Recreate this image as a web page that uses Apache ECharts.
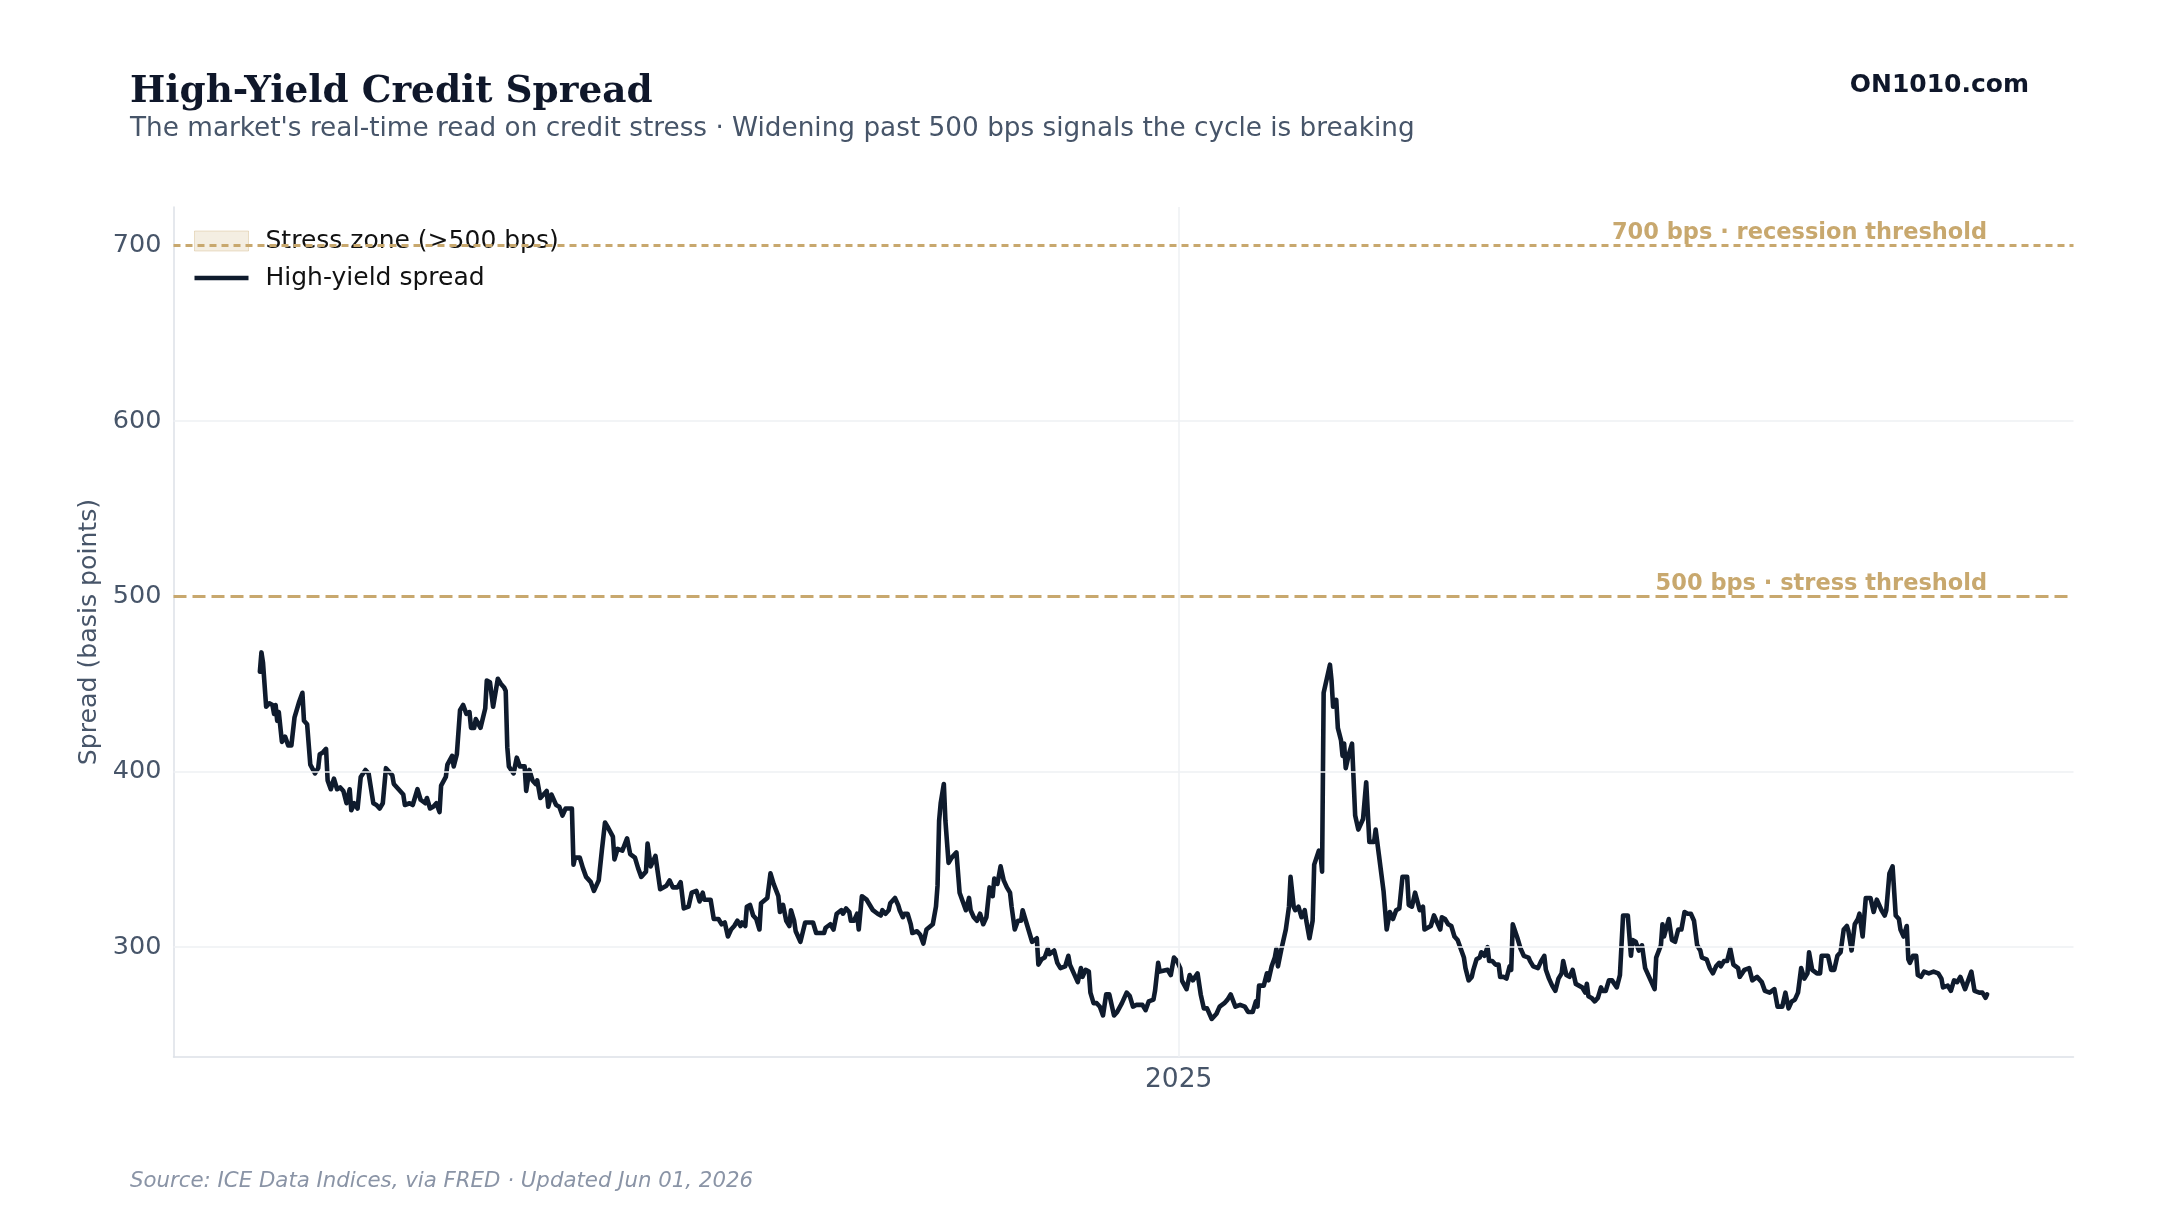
<!DOCTYPE html>
<html>
<head>
<meta charset="utf-8">
<title>High-Yield Credit Spread</title>
<script src="https://cdn.jsdelivr.net/npm/echarts@6/dist/echarts.min.js"></script>
<style>
  html, body { margin: 0; padding: 0; background: #ffffff; }
  #chart { width: 2160px; height: 1215px; }
</style>
</head>
<body>
<div id="chart"></div>
<script>
// [days after 2023-05-29, spread in bps]
const spreadPoints = [
  [0,457],[1,468],[2,462],[4,437],[6,439],[8,438],[9,433],[10,438],[11,429],[12,434],[13,434],[14,417],[16,420],[18,415],[20,415],[22,431],[25,440],[27,445],[28,429],[30,427],
  [32,404],[35,399],[37,402],[38,410],[40,411],[42,413],[43,395],[45,390],[47,396],[48,397],[49,390],[51,391],[53,389],[55,382],[57,390],[58,378],[60,382],[62,379],[64,397],[67,401],
  [69,399],[70,400],[72,382],[74,381],[76,379],[78,382],[80,402],[84,398],[85,393],[88,390],[91,387],[92,381],[93,381],[95,382],[97,381],[100,390],[102,384],[105,382],[106,385],[108,379],
  [110,380],[112,382],[114,377],[115,392],[118,397],[119,404],[122,409],[123,403],[125,410],[127,435],[129,438],[131,433],[133,434],[134,425],[136,425],[137,430],[140,425],[143,436],[144,452],[146,451],
  [148,437],[151,453],[153,450],[155,448],[156,446],[157,414],[158,403],[161,399],[163,408],[165,403],[168,403],[169,389],[171,401],[173,395],[175,393],[176,395],[178,385],[180,387],[182,389],[183,380],
  [185,387],[188,381],[190,380],[192,375],[194,379],[196,379],[198,379],[199,347],[200,351],[203,351],[205,345],[207,340],[210,337],[212,332],[215,338],[217,355],[219,371],[221,368],[224,363],[225,350],
  [227,356],[230,355],[233,362],[235,353],[238,351],[239,351],[240,345],[242,340],[245,343],[246,359],[248,346],[251,352],[252,351],[254,333],[258,335],[260,338],[262,334],[265,334],[267,337],[269,322],
  [272,323],[274,331],[277,332],[279,326],[281,331],[282,327],[286,327],[288,316],[291,316],[293,313],[295,314],[297,306],[299,310],[301,312],[303,315],[305,312],[306,314],[308,312],[309,323],[311,324],
  [313,318],[315,316],[317,310],[318,325],[322,328],[324,342],[326,336],[329,329],[330,320],[332,324],[334,315],[336,312],[337,321],[339,315],[340,309],[343,303],[346,314],[349,314],[351,314],[353,308],
  [356,308],[358,308],[359,311],[362,313],[364,310],[366,319],[369,321],[370,319],[372,322],[374,320],[375,315],[377,315],[379,319],[380,310],[382,329],[385,327],[387,324],[389,321],[392,319],[394,318],
  [395,321],[397,319],[399,321],[400,325],[403,328],[405,324],[406,321],[408,317],[409,319],[411,319],[413,313],[414,308],[417,309],[419,307],[421,302],[423,310],[424,310],[427,313],[429,323],[430,335],
  [431,372],[432,382],[434,393],[435,372],[437,348],[439,351],[442,354],[444,331],[446,326],[448,321],[450,328],[451,321],[453,317],[455,315],[457,319],[459,313],[461,317],[462,317],[463,334],[465,329],
  [466,339],[468,336],[470,346],[472,338],[474,334],[476,331],[477,323],[479,310],[481,315],[483,315],[484,321],[486,315],[487,314],[490,303],[493,305],[494,290],[496,293],[498,294],[500,299],[501,296],
  [504,298],[506,291],[508,288],[511,289],[513,295],[514,290],[518,282],[519,280],[521,288],[522,283],[524,287],[526,286],[527,274],[529,268],[531,268],[533,266],[535,261],[537,273],[539,273],[542,261],
  [544,263],[547,268],[550,274],[552,272],[554,266],[556,267],[558,267],[560,267],[562,264],[564,269],[567,270],[568,275],[570,291],[571,286],[576,287],[578,284],[580,294],[582,292],[584,288],[585,281],
  [588,276],[590,284],[592,281],[595,285],[597,273],[599,265],[601,265],[604,259],[607,262],[609,266],[612,268],[614,270],[616,273],[619,266],[622,267],[625,266],[627,263],[630,263],[632,269],[633,266],
  [634,278],[637,278],[639,285],[640,281],[642,289],[644,294],[645,299],[646,289],[648,298],[649,297],[651,310],[653,323],[654,340],[656,323],[657,321],[659,323],[661,317],[663,321],[664,315],[666,305],
  [668,315],[669,347],[672,355],[673,353],[674,343],[675,445],[677,453],[679,461],[680,452],[681,437],[683,441],[684,425],[686,418],[687,409],[688,416],[689,402],[691,410],[693,416],[695,375],[697,367],
  [700,373],[702,394],[704,360],[707,360],[708,367],[710,353],[711,353],[713,332],[715,310],[717,320],[719,316],[721,321],[723,322],[725,340],[728,340],[729,324],[731,323],[733,331],[736,321],[738,323],
  [739,310],[741,311],[743,312],[745,318],[747,314],[749,310],[750,317],[752,316],[754,313],[756,312],[758,306],[760,304],[762,299],[764,294],[765,288],[767,281],[769,283],[770,287],[772,293],[774,294],
  [775,297],[777,295],[779,300],[780,292],[782,292],[784,290],[786,290],[787,283],[789,283],[791,282],[793,289],[794,287],[795,313],[798,305],[800,299],[802,295],[805,294],[806,292],[808,289],[811,288],
  [813,292],[815,295],[816,287],[818,282],[820,278],[822,275],[824,282],[826,285],[827,292],[829,284],[831,283],[833,287],[835,279],[837,278],[839,277],[841,274],[842,279],[843,272],[845,271],[847,269],
  [849,271],[851,277],[852,275],[854,275],[856,281],[858,281],[861,277],[862,276],[863,284],[865,318],[868,318],[870,295],[871,304],[873,303],[875,298],[877,301],[879,288],[881,284],[883,280],[885,276],
  [886,294],[889,301],[890,313],[891,306],[894,316],[896,304],[898,303],[900,310],[902,310],[904,320],[906,319],[908,319],[910,315],[912,301],[914,298],[915,294],[918,293],[920,288],[922,285],[924,289],
  [926,291],[927,289],[929,292],[931,292],[933,299],[935,290],[938,288],[939,283],[942,287],[945,288],[947,281],[950,283],[953,280],[955,275],[958,274],[961,276],[963,266],[966,266],[968,274],[970,265],
  [972,269],[974,270],[976,274],[978,288],[980,282],[982,285],[983,297],[985,287],[988,285],[990,285],[991,295],[995,295],[997,287],[999,287],[1001,295],[1003,297],[1005,310],[1007,312],[1008,309],[1009,308],
  [1010,298],[1012,313],[1014,316],[1015,319],[1017,306],[1019,328],[1022,328],[1024,320],[1026,327],[1029,321],[1031,318],[1032,321],[1034,342],[1036,346],[1038,318],[1040,316],[1041,310],[1043,306],[1045,312],[1046,293],
  [1047,291],[1049,295],[1051,295],[1052,284],[1054,283],[1056,286],[1057,287],[1059,285],[1062,286],[1065,285],[1067,282],[1068,277],[1071,278],[1073,275],[1075,281],[1077,280],[1079,283],[1082,276],[1084,281],[1086,286],
  [1088,275],[1091,274],[1093,274],[1095,271],[1096,273]
];

const yTickValues = [300, 400, 500, 600, 700];
const gridLevels = [300, 400, 600];
const stressLevel = 500;
const recessionLevel = 700;
const yearTick = [2025, 0, 1];

const gold = '#c8a86e';
const ink = '#0f1b2d';
const slate = '#475569';
const font = 'DejaVu Sans';

const dayToTime = d => new Date(2023, 4, 29 + d).getTime();
const lineData = spreadPoints.map(([d, v]) => [dayToTime(d), v]);
const tFirst = lineData[0][0];
const tLast = lineData[lineData.length - 1][0];
const pad = (tLast - tFirst) * 0.05;
const xMin = tFirst - pad;
const xMax = tLast + pad;
const tYear = new Date(yearTick[0], yearTick[1], yearTick[2]).getTime();

const chart = echarts.init(document.getElementById('chart'), null, { renderer: 'canvas' });

// invisible segment ending at the last reading, only to carry the text
function thresholdLabel(level, text) {
  const label = {
    show: true, position: 'insideEndTop', formatter: text, distance: [0, 1],
    color: gold, fontFamily: font, fontWeight: 'bold', fontSize: 22.5
  };
  return [
    { coord: [xMin, level], lineStyle: { color: 'rgba(0,0,0,0)', width: 0 }, label: label },
    { coord: [tLast, level], label: label }
  ];
}

chart.setOption({
  animation: false,
  backgroundColor: '#ffffff',
  title: [
    {
      text: 'High-Yield Credit Spread', left: 130, top: 74, padding: 0,
      textStyle: { fontFamily: 'DejaVu Serif', fontWeight: 'bold', fontSize: 37.4, color: '#0f172a' }
    },
    {
      text: "The market's real-time read on credit stress \u00b7 Widening past 500 bps signals the cycle is breaking",
      left: 130, top: 116, padding: 0,
      textStyle: { fontFamily: font, fontWeight: 'normal', fontSize: 26.3, color: slate }
    },
    {
      text: 'ON1010.com', right: 131, top: 73, padding: 0,
      textStyle: { fontFamily: font, fontWeight: 'bold', fontSize: 25, color: '#0f172a' }
    },
    {
      text: 'Source: ICE Data Indices, via FRED \u00b7 Updated Jun 01, 2026', left: 130, top: 1171, padding: 0,
      textStyle: { fontFamily: font, fontStyle: 'italic', fontWeight: 'normal', fontSize: 21.3, color: '#8a94a6' }
    }
  ],
  legend: {
    orient: 'vertical', left: 189, top: 222,
    itemWidth: 54, itemHeight: 20, itemGap: 9,
    textStyle: { fontFamily: font, fontSize: 25, color: '#111111', lineHeight: 28, padding: [0, 0, 0, 12] },
    data: [
      {
        name: 'Stress zone (>500 bps)', icon: 'rect',
        itemStyle: { color: 'rgba(200,168,110,0.2)', borderColor: 'rgba(200,168,110,0.35)', borderWidth: 1 }
      },
      {
        name: 'High-yield spread', icon: 'path://M0,0 L54,0 L54,4.6 L0,4.6 Z',
        itemStyle: { color: ink, borderWidth: 0 }
      }
    ]
  },
  grid: { left: 173.5, right: 86.5, top: 207, bottom: 158 },
  xAxis: {
    type: 'value', min: xMin, max: xMax,
    axisLine: { show: true, lineStyle: { color: '#dde1e7', width: 1.5 } },
    axisTick: { show: false },
    splitLine: { show: false },
    axisLabel: {
      customValues: [tYear], margin: 10,
      formatter: v => String(new Date(v).getFullYear()),
      fontFamily: font, fontSize: 26.5, color: slate
    }
  },
  yAxis: {
    type: 'value', min: 237.3, max: 722,
    name: 'Spread (basis points)', nameLocation: 'middle', nameGap: 69,
    nameTextStyle: { fontFamily: font, fontSize: 25.2, color: slate },
    axisLine: { show: true, lineStyle: { color: '#dde1e7', width: 1.5 } },
    axisTick: { show: false },
    splitLine: { show: false },
    axisLabel: { customValues: yTickValues, margin: 12, fontFamily: font, fontSize: 25.5, color: slate }
  },
  series: [
    {
      name: 'Stress zone (>500 bps)', type: 'line', data: [], z: 1, silent: true,
      itemStyle: { color: 'rgba(200,168,110,0.2)' },
      markLine: {
        silent: true, symbol: ['none', 'none'], label: { show: false },
        lineStyle: { color: '#eef0f3', width: 1.5, type: 'solid' },
        data: gridLevels.map(v => ({ yAxis: v })).concat([{ xAxis: tYear }])
      }
    },
    {
      name: 'thresholds', type: 'line', data: [], z: 2, silent: true,
      markLine: {
        silent: true, symbol: ['none', 'none'],
        data: [
          { yAxis: stressLevel, lineStyle: { color: gold, width: 2.8, type: [13, 6] }, label: { show: false } },
          { yAxis: recessionLevel, lineStyle: { color: gold, width: 2.8, type: [7, 5] }, label: { show: false } },
          thresholdLabel(stressLevel, '500 bps \u00b7 stress threshold'),
          thresholdLabel(recessionLevel, '700 bps \u00b7 recession threshold')
        ]
      }
    },
    {
      name: 'High-yield spread', type: 'line', data: lineData, z: 3,
      symbol: 'none', showSymbol: false,
      itemStyle: { color: ink },
      lineStyle: { color: ink, width: 4.6, join: 'round', cap: 'round' }
    }
  ]
});

window.addEventListener('resize', () => chart.resize());
</script>
</body>
</html>
